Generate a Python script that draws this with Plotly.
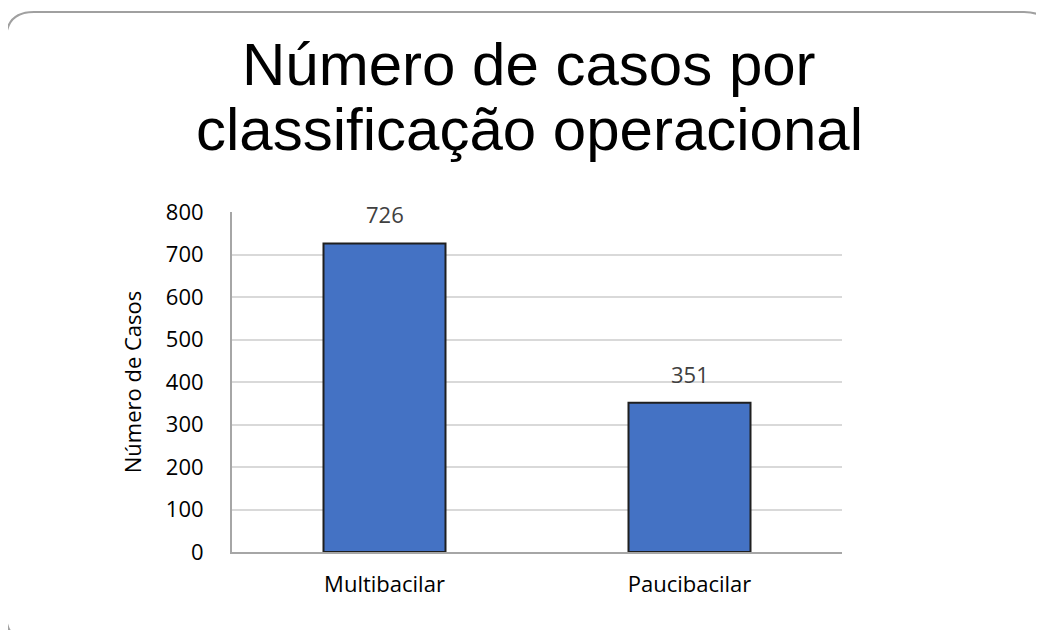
import plotly.graph_objects as go

categorias = ["Multibacilar", "Paucibacilar"]
casos = [726, 351]
y_ticks = [0, 100, 200, 300, 400, 500, 600, 700, 800]

W, H = 1044, 630
OFF = 8  # page body margin
L, T = 232 - OFF, 212 - OFF
R, B = W - (842 - OFF), H - (552 - OFF)
pw, ph = W - L - R, H - T - B


def px(x):
    return (x - OFF - L) / pw


def py(y):
    return (H - B - (y - OFF)) / ph


fig = go.Figure()
fig.add_trace(go.Bar(
    x=categorias,
    y=casos,
    width=0.4,
    marker=dict(color="#4472C4", line=dict(color="#1f1f1f", width=2)),
    showlegend=False,
))

# rótulos de dados acima das barras
for cat, v in zip(categorias, casos):
    fig.add_annotation(
        x=cat, y=v, text=str(v), showarrow=False,
        xanchor="center", yanchor="bottom", yshift=12,
        font=dict(family="Open Sans", size=22, color="#404040"),
    )

# moldura arredondada
x0, y0, x1, y1, r = px(6), py(12), px(1052), py(642), 28
rx, ry = r / pw, r / ph
path = (f"M {x0},{y0 - ry} Q {x0},{y0} {x0 + rx},{y0} L {x1 - rx},{y0} "
        f"Q {x1},{y0} {x1},{y0 - ry} L {x1},{y1 + ry} Q {x1},{y1} {x1 - rx},{y1} "
        f"L {x0 + rx},{y1} Q {x0},{y1} {x0},{y1 + ry} Z")
fig.add_shape(type="path", path=path, xref="paper", yref="paper",
              line=dict(color="#a0a0a0", width=2), layer="below")

titulo = ["Número de casos por", "classificação operacional"]
for i, linha in enumerate(titulo):
    fig.add_annotation(
        text=linha, x=px(529), y=py(64 + i * 65), xref="paper", yref="paper",
        showarrow=False, xanchor="center", yanchor="middle",
        font=dict(family="Arial, Liberation Sans", size=60, color="#000000"),
    )

fig.update_layout(
    width=W, height=H,
    margin=dict(l=L, r=R, t=T, b=B),
    paper_bgcolor="white",
    plot_bgcolor="white",
    xaxis=dict(
        showline=True, linecolor="#a6a6a6", linewidth=2,
        showgrid=False, ticks="outside", ticklen=12, tickcolor="rgba(0,0,0,0)",
        tickfont=dict(family="Open Sans", size=22, color="#000000"),
    ),
    yaxis=dict(
        range=[0, 800], tickvals=y_ticks,
        showline=True, linecolor="#a6a6a6", linewidth=2,
        gridcolor="#d9d9d9", gridwidth=1.5, zeroline=False,
        ticks="outside", ticklen=22, tickcolor="rgba(0,0,0,0)",
        tickfont=dict(family="Open Sans", size=22, color="#000000"),
        title=dict(text="Número de Casos",
                   font=dict(family="Open Sans", size=22, color="#000000"),
                   standoff=18),
    ),
)

fig.write_html("out.html")
